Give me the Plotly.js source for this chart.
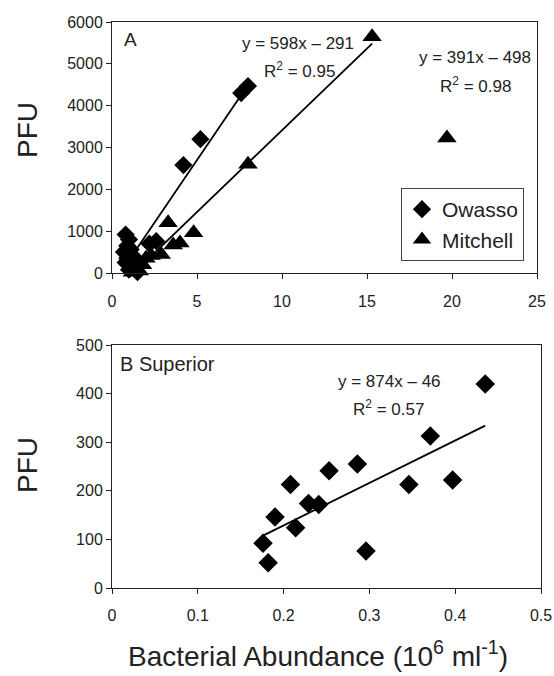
<!DOCTYPE html>
<html>
<head>
<meta charset="utf-8">
<script src="https://cdn.plot.ly/plotly-3.0.1.min.js"></script>
<style>html,body{margin:0;padding:0;background:#fff;}#chart{width:554px;height:676px;}</style>
</head>
<body>
<div id="chart"></div>
<script>
// ---- Panel A data (Bacterial abundance, 10^6 ml^-1 ; PFU) ----
const owassoX = [0.8, 1.0, 0.9, 0.7, 1.1, 0.9, 1.2, 0.8, 1.1, 1.3, 1.0, 1.4, 1.5, 1.6, 2.2, 2.6, 4.2, 5.2, 7.6, 8.0];
const owassoY = [920, 800, 650, 500, 560, 350, 420, 250, 200, 300, 80, 120, 20, 250, 700, 760, 2580, 3200, 4300, 4470];
const mitchellX = [1.2, 1.4, 1.6, 1.8, 2.0, 1.5, 2.3, 2.9, 3.3, 3.6, 4.0, 4.8, 8.0, 15.3];
const mitchellY = [20, 100, 50, 200, 350, 300, 420, 440, 1200, 670, 720, 960, 2600, 5650];
const mitchellOutlierX = [19.7];
const mitchellOutlierY = [3230];
const owassoFit = [598, -291];
const mitchellFit = [391, -498];

// ---- Panel B data (Superior) ----
const superiorX = [0.176, 0.182, 0.190, 0.208, 0.214, 0.229, 0.241, 0.253, 0.286, 0.296, 0.346, 0.371, 0.397, 0.435];
const superiorY = [92, 52, 146, 213, 124, 174, 172, 241, 255, 76, 213, 313, 222, 420];
const superiorFit = [874, -46];

const xTicksA = [0, 5, 10, 15, 20, 25];
const yTicksA = [0, 1000, 2000, 3000, 4000, 5000, 6000];
const xTicksB = [0, 0.1, 0.2, 0.3, 0.4, 0.5];
const yTicksB = [0, 100, 200, 300, 400, 500];

function fitLine(xs, fit) {
  const lo = Math.min(...xs), hi = Math.max(...xs);
  return {x: [lo, hi], y: [fit[0] * lo + fit[1], fit[0] * hi + fit[1]]};
}
const lA1 = fitLine(owassoX, owassoFit);
const lA2 = fitLine(mitchellX, mitchellFit);
const lB = fitLine(superiorX, superiorFit);

const FONT = "'Liberation Sans', Arial, sans-serif";
const W = 554, H = 676;
const px = v => v / W, py = v => 1 - v / H;

const traces = [
  {x: lA1.x, y: lA1.y, mode: 'lines', line: {color: '#000', width: 1.8}, showlegend: false, xaxis: 'x', yaxis: 'y', hoverinfo: 'skip'},
  {x: lA2.x, y: lA2.y, mode: 'lines', line: {color: '#000', width: 1.8}, showlegend: false, xaxis: 'x', yaxis: 'y', hoverinfo: 'skip'},
  {x: owassoX, y: owassoY, name: 'Owasso', mode: 'markers', cliponaxis: false,
   marker: {symbol: 'diamond', size: 14, color: '#000'}, xaxis: 'x', yaxis: 'y'},
  {x: mitchellX.concat(mitchellOutlierX), y: mitchellY.concat(mitchellOutlierY), name: 'Mitchell', mode: 'markers', cliponaxis: false,
   marker: {symbol: 'triangle-up', size: 17, color: '#000'}, xaxis: 'x', yaxis: 'y'},
  {x: lB.x, y: lB.y, mode: 'lines', line: {color: '#000', width: 1.8}, showlegend: false, xaxis: 'x2', yaxis: 'y2', hoverinfo: 'skip'},
  {x: superiorX, y: superiorY, name: 'Superior', mode: 'markers', cliponaxis: false, showlegend: false,
   marker: {symbol: 'diamond', size: 15, color: '#000'}, xaxis: 'x2', yaxis: 'y2'}
];

const axCommon = {
  showline: true, mirror: true, linecolor: '#222', linewidth: 1,
  ticks: 'outside', ticklen: 5, tickcolor: '#222', tickwidth: 1,
  showgrid: false, zeroline: false, automargin: false,
  tickfont: {family: FONT, size: 16, color: '#222'}
};

const layout = {
  width: W, height: H,
  margin: {l: 0, r: 0, t: 0, b: 0},
  paper_bgcolor: '#fff', plot_bgcolor: '#fff',
  font: {family: FONT, color: '#222'},
  xaxis: Object.assign({}, axCommon, {domain: [px(112), px(537)], range: [0, 25], tickvals: xTicksA, anchor: 'y', ticklabelstandoff: 9}),
  yaxis: Object.assign({}, axCommon, {domain: [py(273), py(22)], range: [0, 6000], tickvals: yTicksA, anchor: 'x'}),
  xaxis2: Object.assign({}, axCommon, {domain: [px(112), px(541)], range: [0, 0.5], tickvals: xTicksB, anchor: 'y2', ticklabelstandoff: 8}),
  yaxis2: Object.assign({}, axCommon, {domain: [py(588), py(345)], range: [0, 500], tickvals: yTicksB, anchor: 'x2'}),
  showlegend: true,
  legend: {
    x: px(401), y: py(188), xanchor: 'left', yanchor: 'top',
    bordercolor: '#444', borderwidth: 1, bgcolor: '#fff',
    font: {family: FONT, size: 21, color: '#222'}, itemwidth: 30, tracegroupgap: 0
  },
  annotations: [
    {text: 'A', xref: 'paper', yref: 'paper', x: px(122), y: py(39), xanchor: 'left', yanchor: 'middle', showarrow: false, font: {family: FONT, size: 19, color: '#222'}},
    {text: 'y = 598x – 291', xref: 'paper', yref: 'paper', x: px(298), y: py(43), xanchor: 'center', yanchor: 'middle', showarrow: false, font: {family: FONT, size: 17, color: '#222'}},
    {text: 'R<sup>2</sup> = 0.95', xref: 'paper', yref: 'paper', x: px(299), y: py(70), xanchor: 'center', yanchor: 'middle', showarrow: false, font: {family: FONT, size: 17, color: '#222'}},
    {text: 'y = 391x – 498', xref: 'paper', yref: 'paper', x: px(475), y: py(58), xanchor: 'center', yanchor: 'middle', showarrow: false, font: {family: FONT, size: 17, color: '#222'}},
    {text: 'R<sup>2</sup> = 0.98', xref: 'paper', yref: 'paper', x: px(475), y: py(85), xanchor: 'center', yanchor: 'middle', showarrow: false, font: {family: FONT, size: 17, color: '#222'}},
    {text: 'B Superior', xref: 'paper', yref: 'paper', x: px(118), y: py(364), xanchor: 'left', yanchor: 'middle', showarrow: false, font: {family: FONT, size: 20, color: '#222'}},
    {text: 'y = 874x – 46', xref: 'paper', yref: 'paper', x: px(389), y: py(381), xanchor: 'center', yanchor: 'middle', showarrow: false, font: {family: FONT, size: 17, color: '#222'}},
    {text: 'R<sup>2</sup> = 0.57', xref: 'paper', yref: 'paper', x: px(388), y: py(408), xanchor: 'center', yanchor: 'middle', showarrow: false, font: {family: FONT, size: 17, color: '#222'}},
    {text: 'PFU', xref: 'paper', yref: 'paper', x: px(27), y: py(130), xanchor: 'center', yanchor: 'middle', textangle: -90, showarrow: false, font: {family: FONT, size: 28, color: '#222'}},
    {text: 'PFU', xref: 'paper', yref: 'paper', x: px(27), y: py(465), xanchor: 'center', yanchor: 'middle', textangle: -90, showarrow: false, font: {family: FONT, size: 28, color: '#222'}},
    {text: 'Bacterial Abundance (10<sup>6</sup> ml<sup>-1</sup>)', xref: 'paper', yref: 'paper', x: px(318), y: py(654), xanchor: 'center', yanchor: 'middle', showarrow: false, font: {family: FONT, size: 28, color: '#222'}}
  ]
};

Plotly.newPlot('chart', traces, layout, {displayModeBar: false, staticPlot: true});
</script>
</body>
</html>
